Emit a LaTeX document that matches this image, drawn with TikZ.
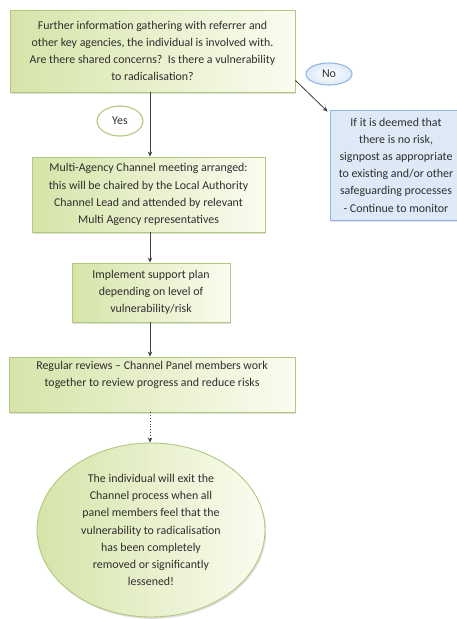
\documentclass[tikz,border=0pt]{standalone}
\usepackage{fontspec}
\setmainfont{Carlito}
\usetikzlibrary{shapes.geometric,shadows,arrows.meta}
\definecolor{gLo}{HTML}{D6E4A8}
\definecolor{gHi}{HTML}{FAFCF0}
\definecolor{gEdge}{HTML}{AFC97F}
\definecolor{bFill}{HTML}{DDE9F7}
\definecolor{bEdge}{HTML}{93B7E3}
\definecolor{txt}{HTML}{2E2E2E}
\definecolor{arr}{HTML}{3F3F3F}
\tikzset{
  txtfont/.style={font=\fontsize{11.9}{17.2}\selectfont, text=txt, align=center},
  greenbox/.style={txtfont, draw=gEdge, line width=0.9pt, left color=gLo, right color=gHi,
    inner sep=0pt, drop shadow={shadow xshift=1.2pt, shadow yshift=-1.8pt, opacity=0.25}},
  bluebox/.style={txtfont, draw=bEdge, line width=0.9pt, fill=bFill, inner sep=0pt,
    drop shadow={shadow xshift=1.2pt, shadow yshift=-1.8pt, opacity=0.25}},
  tag/.style={ellipse, txtfont, fill=white, line width=1.1pt, inner sep=0pt},
  flow/.style={draw=arr, line width=0.8pt, -{Stealth[length=5pt,width=4.5pt]}},
}
\begin{document}
\begin{tikzpicture}[x=1pt,y=-1pt]
\useasboundingbox (0,0) rectangle (457,619);

\node[greenbox, minimum width=285pt, minimum height=82pt] (top) at (152.5,51)
  {Further information gathering with referrer and\\
   other key agencies, the individual is involved with.\\
   Are there shared concerns?\ \ Is there a vulnerability\\
   to radicalisation?};

\node[tag, draw=bEdge, inner color=white, outer color=bFill, minimum width=46pt, minimum height=22pt] (no) at (329,74) {No};

\node[bluebox, minimum width=132pt, minimum height=110pt] (blue) at (396,165)
  {If it is deemed that\\ there is no risk,\\ signpost as appropriate\\
   to existing and/or other\\ safeguarding processes\\ - Continue to monitor};

\node[tag, draw=gEdge, minimum width=46pt, minimum height=30pt] (yes) at (120,121) {Yes};

\node[greenbox, minimum width=233pt, minimum height=75pt] (multi) at (148.5,194.5)
  {Multi-Agency Channel meeting arranged:\\
   this will be chaired by the Local Authority\\
   Channel Lead and attended by relevant\\
   Multi Agency representatives};

\node[greenbox, minimum width=158pt, minimum height=59pt] (impl) at (151,292.5)
  {Implement support plan\\ depending on level of\\ vulnerability/risk};

\node[greenbox, minimum width=286pt, minimum height=55pt] (review) at (152,384.5)
  {Regular reviews -- Channel Panel members work\\
   together to review progress and reduce risks\\[4pt]};

\node[greenbox, ellipse, minimum width=228pt, minimum height=174pt] (exit) at (151,530)
  {The individual will exit the\\ Channel process when all\\ panel members feel that the\\
   vulnerability to radicalisation\\ has been completely\\ removed or significantly\\ lessened!};

\draw[flow] (top.south -| 150,0) -- (multi.north -| 150,0);
\draw[flow] (multi.south -| 150,0) -- (impl.north -| 150,0);
\draw[flow] (impl.south -| 150,0) -- (review.north -| 150,0);
\draw[flow, dotted] (review.south -| 150,0) -- (exit.north -| 150,0);
\draw[flow] ([yshift=12pt]top.south east) -- ([xshift=-2pt,yshift=-2pt]blue.north west);
\end{tikzpicture}
\end{document}
